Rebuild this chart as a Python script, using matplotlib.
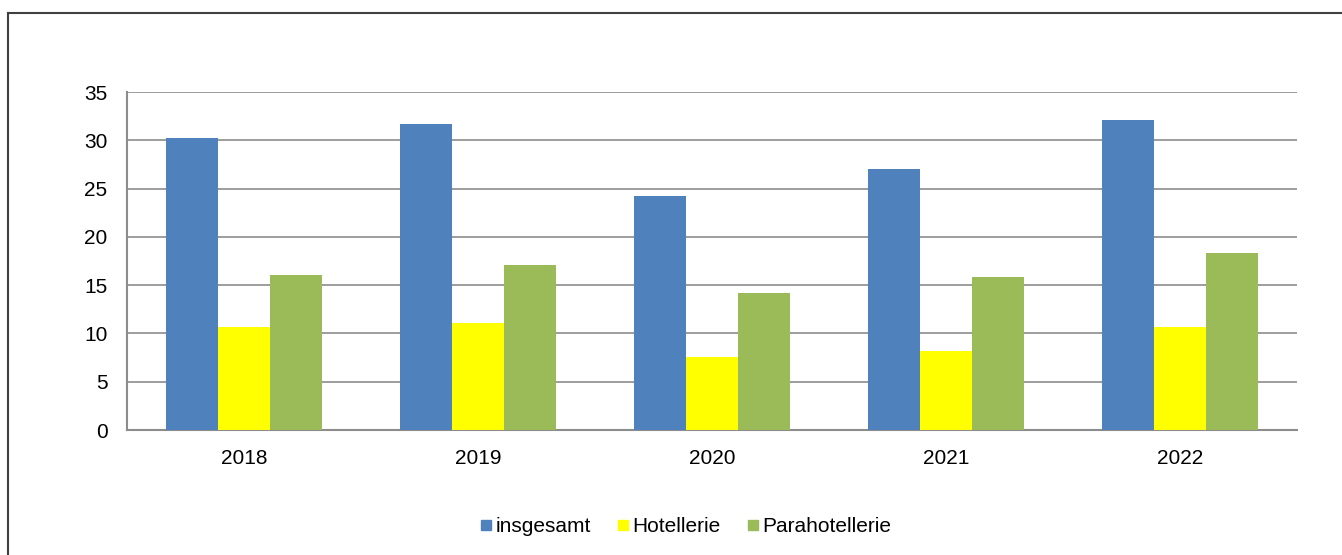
import matplotlib.pyplot as plt
import numpy as np
from matplotlib.lines import Line2D

plt.rcParams['font.family'] = ['Liberation Sans', 'DejaVu Sans']

# data
years = ["2018", "2019", "2020", "2021", "2022"]
insgesamt = [30.2, 31.7, 24.2, 27.0, 32.1]
hotellerie = [10.7, 11.1, 7.6, 8.2, 10.7]
parahotellerie = [16.0, 17.1, 14.2, 15.8, 18.3]

series = [("insgesamt", insgesamt, "#4f81bd"),
          ("Hotellerie", hotellerie, "#ffff00"),
          ("Parahotellerie", parahotellerie, "#9bbb59")]

fig = plt.figure(figsize=(13.42, 5.55), dpi=100)
ax = fig.add_axes([127/1342, 125/555, 1170/1342, 338/555])

x = np.arange(len(years))
w = 0.222
for i, (name, vals, col) in enumerate(series):
    ax.bar(x + (i - 1) * w, vals, w, color=col, label=name, zorder=3)

ax.set_xlim(-0.5, len(years) - 0.5)
ax.set_ylim(0, 35)
ax.set_yticks(range(0, 36, 5))
ax.set_xticks(x)
ax.set_xticklabels(years)
ax.yaxis.grid(True, color="#8c8c8c", linewidth=1.2, zorder=0)
ax.tick_params(axis="both", length=0, labelsize=15)
ax.tick_params(axis="x", pad=14)
ax.tick_params(axis="y", pad=14)
for s in ["top", "right"]:
    ax.spines[s].set_visible(False)
for s in ["left", "bottom"]:
    ax.spines[s].set_color("#8c8c8c")
    ax.spines[s].set_linewidth(1.5)

handles = [Line2D([], [], marker="s", linestyle="none", markersize=7.5,
                  markerfacecolor=c, markeredgecolor=c) for _, _, c in series]
fig.legend(handles, [n for n, _, _ in series], loc="center",
           bbox_to_anchor=(684/1342, 1 - 527/555), ncol=3, frameon=False,
           fontsize=15, handletextpad=0.0, columnspacing=1.1, handlelength=0.9)

# outer frame
fig.add_artist(Line2D([8/1342, 1], [1 - 13/555, 1 - 13/555], transform=fig.transFigure,
                      color="#404040", linewidth=1.5))
fig.add_artist(Line2D([8/1342, 8/1342], [0, 1 - 13/555], transform=fig.transFigure,
                      color="#404040", linewidth=1.5))

fig.savefig("out.png", dpi=100)
